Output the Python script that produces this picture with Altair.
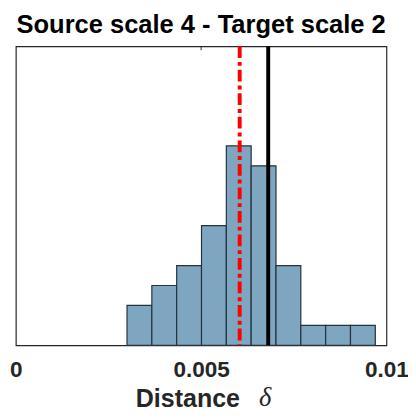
import altair as alt
import pandas as pd

# Histogram bins (edges) and counts
bin_starts = [0.0030, 0.00367, 0.00434, 0.00501, 0.00568, 0.00635, 0.00702, 0.00769, 0.00836, 0.00903]
bin_ends = [0.00367, 0.00434, 0.00501, 0.00568, 0.00635, 0.00702, 0.00769, 0.00836, 0.00903, 0.0097]
counts = [2, 3, 4, 6, 10, 9, 4, 1, 1, 1]

red_line = [0.00604]
black_line = [0.00681]
tick_values = [0, 0.005, 0.01]
top_ticks = [0.005]

bars_df = pd.DataFrame({"start": bin_starts, "end": bin_ends, "count": counts})

FONT = "Liberation Sans"
W, H = 378, 305

xscale = alt.Scale(domain=[0, 0.01], nice=False, zero=False)
yscale = alt.Scale(domain=[0, 15], nice=False)

bars = alt.Chart(bars_df).mark_rect(
    fill="#7fa6c0", stroke="#25313b", strokeWidth=1.2
).encode(
    x=alt.X("start:Q", scale=xscale,
            axis=alt.Axis(values=tick_values, format="~g", title="Distance",
                          ticks=False, tickSize=0, domain=False, grid=False,
                          labelFont=FONT, labelFontSize=23, labelFontWeight="bold",
                          labelColor="#262626", labelPadding=32, labelBaseline="alphabetic",
                          labelFlush=False,
                          titleFont=FONT, titleFontSize=25.5, titleFontWeight="bold",
                          titleColor="#262626", titleX=175, titleY=62,
                          titleAlign="center", titleBaseline="alphabetic")),
    x2="end:Q",
    y=alt.Y("count:Q", scale=yscale, axis=None),
    y2=alt.datum(0),
)

red = alt.Chart(pd.DataFrame({"v": red_line})).mark_rule(
    color="#ff0000", strokeWidth=4, strokeDash=[12, 4, 4, 4]
).encode(x=alt.X("v:Q", scale=xscale), y=alt.value(0), y2=alt.value(H))

black = alt.Chart(pd.DataFrame({"v": black_line})).mark_rule(
    color="#000000", strokeWidth=4
).encode(x=alt.X("v:Q", scale=xscale), y=alt.value(0), y2=alt.value(H))

ticks = alt.Chart(pd.DataFrame({"v": top_ticks})).mark_rule(
    color="#262626", strokeWidth=1
).encode(x=alt.X("v:Q", scale=xscale), y=alt.value(0), y2=alt.value(4))

delta = alt.Chart(pd.DataFrame({"t": ["δ"]})).mark_text(
    font="Liberation Serif", fontStyle="italic", fontSize=27, color="#262626",
    align="left", baseline="alphabetic"
).encode(text="t:N", x=alt.value(248), y=alt.value(367))

chart = alt.layer(bars, red, black, ticks, delta).properties(
    width=W,
    height=H,
    title=alt.Title("Source scale 4 - Target scale 2", font=FONT, fontSize=26,
                    fontWeight="bold", color="#000000", anchor="middle", offset=7),
    autosize=alt.AutoSizeParams(type="none"),
    padding={"left": 8, "top": 35, "right": 22, "bottom": 63},
).configure_view(stroke="#262626", strokeWidth=1.2)

chart.save("out.html", embed_options={"renderer": "svg", "actions": False})
